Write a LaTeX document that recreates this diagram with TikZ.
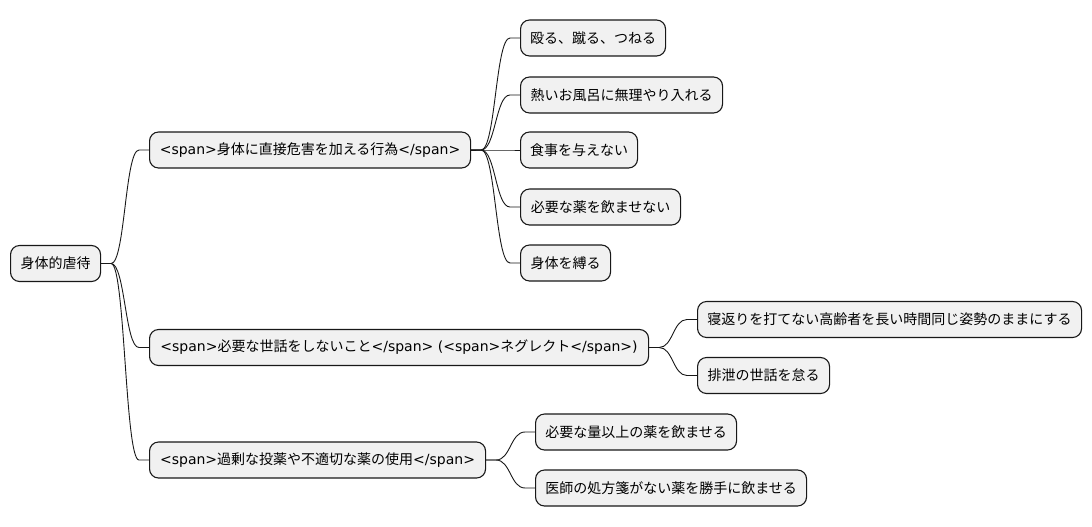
\documentclass[tikz,border=0pt]{standalone}
\usepackage{fontspec}
\setmainfont{DejaVu Sans}
\newfontfamily\jp{Noto Sans CJK JP}
\newcommand\cj[1]{{\jp #1}}
\usetikzlibrary{calc}
\definecolor{nodefill}{HTML}{F1F1F1}
\definecolor{linecol}{HTML}{181818}
\tikzset{
  mm/.style={draw=linecol, line width=1.1pt, fill=nodefill, rounded corners=9pt,
    minimum height=36pt, inner xsep=0pt, inner ysep=0pt, anchor=west,
    font=\fontsize{14pt}{16pt}\selectfont, text=black},
  link/.style={draw=linecol, line width=0.9pt}
}
\newcommand\conn[2]{%
  \path ([xshift=10pt]#1.east) coordinate (s)
        ([xshift=-10pt]#2.west) coordinate (e);
  \path ($(s)!0.5!(e)$) coordinate (m);
  \draw[link] (#1.east) -- (s) .. controls (m |- s) and (m |- e) .. (e) -- (#2.west);}
\begin{document}
\begin{tikzpicture}[x=1pt,y=-1pt]
\useasboundingbox (0,0) rectangle (1092,527);
\node[mm, minimum width=90pt] (root) at (10,263.5) {\cj{身体的虐待}};
\node[mm, minimum width=321pt] (A) at (149,150) {<span>\cj{身体に直接危害を加える行為}</span>};
\node[mm, minimum width=145pt] (a1) at (520,38) {\cj{殴る、蹴る、つねる}};
\node[mm, minimum width=202pt] (a2) at (520,95) {\cj{熱いお風呂に無理やり入れる}};
\node[mm, minimum width=117pt] (a3) at (520,150) {\cj{食事を与えない}};
\node[mm, minimum width=160pt] (a4) at (520,207) {\cj{必要な薬を飲ませない}};
\node[mm, minimum width=90pt] (a5) at (520,263) {\cj{身体を縛る}};
\node[mm, minimum width=499pt] (B) at (149,347.5) {<span>\cj{必要な世話をしないこと}</span> (<span>\cj{ネグレクト}</span>)};
\node[mm, minimum width=384pt] (b1) at (697,319.5) {\cj{寝返りを打てない高齢者を長い時間同じ姿勢のままにする}};
\node[mm, minimum width=132pt] (b2) at (697,375.5) {\cj{排泄の世話を怠る}};
\node[mm, minimum width=336pt] (C) at (149,460) {<span>\cj{過剰な投薬や不適切な薬の使用}</span>};
\node[mm, minimum width=201pt] (c1) at (535,432) {\cj{必要な量以上の薬を飲ませる}};
\node[mm, minimum width=271pt] (c2) at (535,488) {\cj{医師の処方箋がない薬を勝手に飲ませる}};
\conn{root}{A}
\conn{root}{B}
\conn{root}{C}
\conn{A}{a1}
\conn{A}{a2}
\conn{A}{a3}
\conn{A}{a4}
\conn{A}{a5}
\conn{B}{b1}
\conn{B}{b2}
\conn{C}{c1}
\conn{C}{c2}
\end{tikzpicture}
\end{document}
